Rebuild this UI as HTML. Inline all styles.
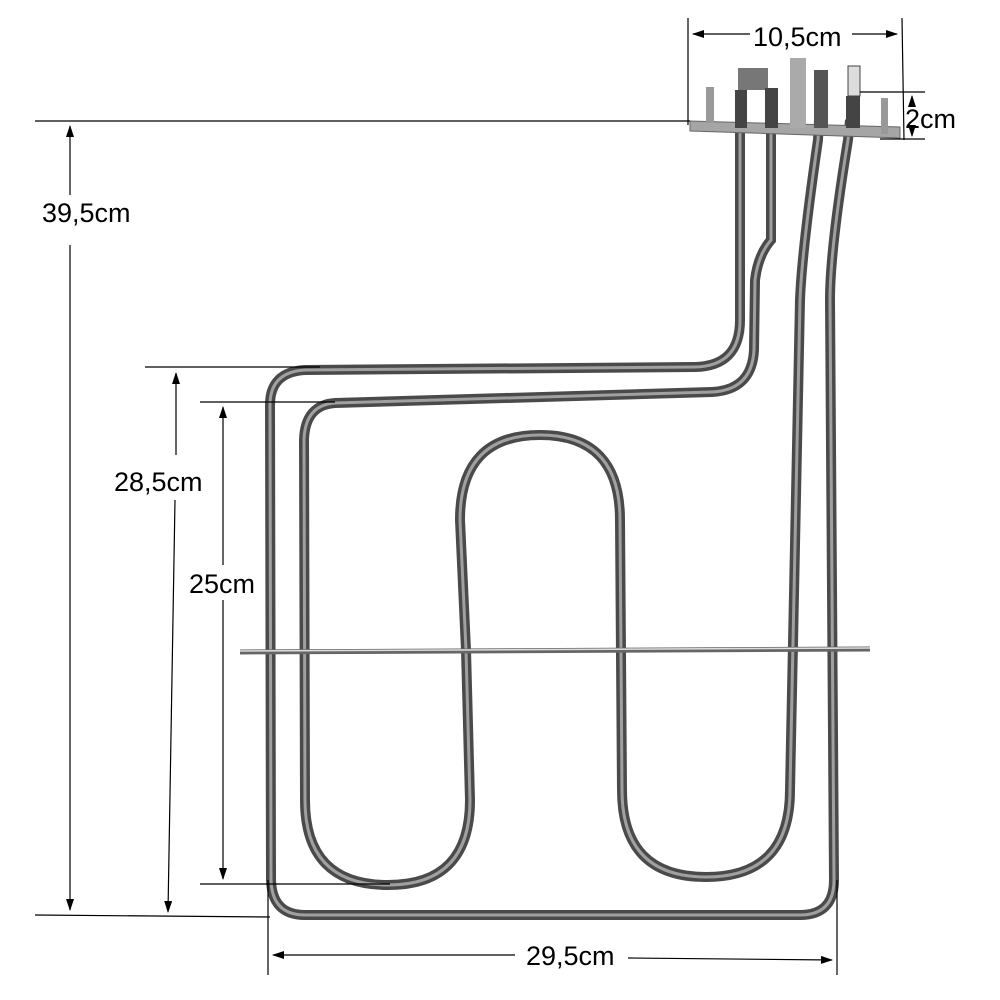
<!DOCTYPE html>
<html><head><meta charset="utf-8"><style>
html,body{margin:0;padding:0;background:#fff}
svg{display:block}
text{font-family:"Liberation Sans",sans-serif;font-size:27px;fill:#000}
</style></head><body>
<svg width="1000" height="1000" viewBox="0 0 1000 1000" xmlns="http://www.w3.org/2000/svg">
<defs>
<marker id="a" markerWidth="12" markerHeight="8" refX="11" refY="4" orient="auto" markerUnits="userSpaceOnUse"><path d="M0,0 L12,4 L0,8 z" fill="#000"/></marker>
</defs>
<g fill="none" stroke-linecap="round" stroke-linejoin="round">
<g id="tA">
<path d="M740,130 L740,320 Q740,366 695,367 L305,370 Q270,372 270,405 L271,880 Q272,915 305,915 L800,915 Q834,915 834,880 L830,300 Q830,250 848,140 L850,120"/>
</g>
<g id="tB">
<path d="M771,130 L771,240 Q758,255 755,280 L754,350 Q752,390 712,392 L335,403 Q305,405 304,440 L305,800 Q305,885 388,885 Q470,885 470,800 L466,650 L460,520 Q460,435 540,435 Q620,435 620,520 L622,790 Q622,877 706,877 Q790,877 790,790 L800,300 Q802,250 818,140 L819,120"/>
</g>
</g>
<use href="#tA" stroke="#4a4a4a" stroke-width="10" fill="none"/>
<use href="#tB" stroke="#4a4a4a" stroke-width="10" fill="none"/>
<use href="#tA" stroke="#a0a0a0" stroke-width="3" fill="none"/>
<use href="#tB" stroke="#a0a0a0" stroke-width="3" fill="none"/>
<line x1="240" y1="652" x2="870" y2="649" stroke="#666" stroke-width="5"/>
<line x1="240" y1="651" x2="870" y2="648" stroke="#ddd" stroke-width="1.5"/>
<polygon points="690,121 900,127 900,138 690,131" fill="#a5a5a5" stroke="#666"/>
<rect x="706" y="87" width="8" height="36" fill="#999"/>
<rect x="881" y="98" width="7" height="36" fill="#999"/>
<rect x="735" y="90" width="12" height="38" fill="#444"/>
<rect x="738" y="68" width="30" height="22" fill="#777"/>
<rect x="765" y="88" width="13" height="40" fill="#444"/>
<rect x="790" y="58" width="16" height="70" fill="#aaa"/>
<rect x="814" y="70" width="14" height="58" fill="#555"/>
<rect x="848" y="66" width="12" height="30" fill="#ddd" stroke="#444"/>
<rect x="846" y="96" width="14" height="32" fill="#444"/>
<g stroke="#000" stroke-width="1.2" fill="none">
<line x1="35" y1="121" x2="690" y2="121"/>
<line x1="35" y1="915" x2="270" y2="917"/>
<line x1="70" y1="195" x2="70" y2="126" marker-end="url(#a)"/>
<line x1="70" y1="245" x2="70" y2="910" marker-end="url(#a)"/>
<line x1="145" y1="367" x2="320" y2="367"/>
<line x1="176" y1="455" x2="176" y2="373" marker-end="url(#a)"/>
<line x1="175" y1="500" x2="168" y2="912" marker-end="url(#a)"/>
<line x1="200" y1="402" x2="335" y2="402"/>
<line x1="200" y1="884" x2="390" y2="884"/>
<line x1="223" y1="565" x2="223" y2="407" marker-end="url(#a)"/>
<line x1="223" y1="600" x2="223" y2="879" marker-end="url(#a)"/>
<line x1="268" y1="880" x2="268" y2="975"/>
<line x1="837" y1="880" x2="837" y2="975"/>
<line x1="515" y1="955" x2="273" y2="955" marker-end="url(#a)"/>
<line x1="628" y1="958" x2="832" y2="960" marker-end="url(#a)"/>
<line x1="688" y1="18" x2="688" y2="125"/>
<line x1="902" y1="18" x2="904" y2="140"/>
<line x1="750" y1="34" x2="693" y2="34" marker-end="url(#a)"/>
<line x1="852" y1="34" x2="897" y2="34" marker-end="url(#a)"/>
<line x1="860" y1="92" x2="925" y2="92"/>
<line x1="880" y1="139" x2="925" y2="139"/>
<line x1="912" y1="102" x2="912" y2="96" marker-end="url(#a)"/>
<line x1="912" y1="130" x2="912" y2="136" marker-end="url(#a)"/>
</g>
<text x="42" y="222">39,5cm</text>
<text x="114" y="491">28,5cm</text>
<text x="189" y="593">25cm</text>
<text x="526" y="965">29,5cm</text>
<text x="753" y="46">10,5cm</text>
<text x="905" y="128">2cm</text>
</svg>
</body></html>
